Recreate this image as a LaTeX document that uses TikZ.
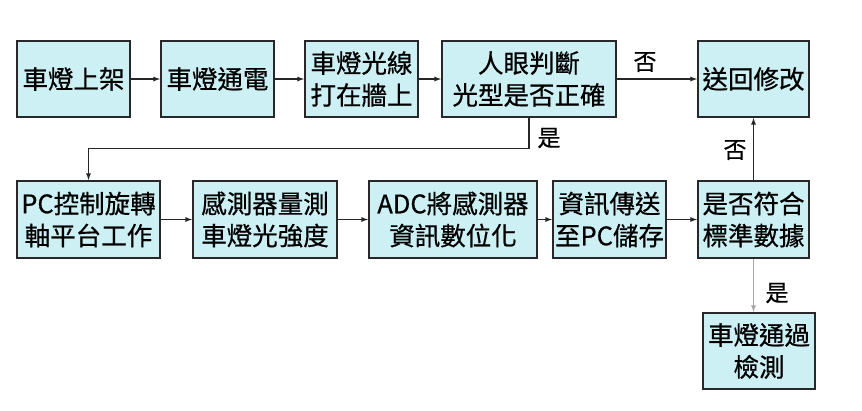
\documentclass[tikz,border=0pt]{standalone}
\usepackage{fontspec}
\newfontfamily\cjk[FakeBold=0.6]{Noto Sans CJK TC}
\usetikzlibrary{arrows.meta}
\definecolor{boxfill}{RGB}{204,240,244}
\definecolor{boxline}{RGB}{40,40,40}
\begin{document}
\begin{tikzpicture}[x=1pt,y=-1pt,
  stepbox/.style={draw=boxline, line width=1.2pt, fill=boxfill, inner sep=0pt,
    minimum height=76pt, align=center,
    font=\cjk\fontsize{25.5pt}{32pt}\selectfont},
  flow/.style={draw=black!85, line width=1.1pt, -{Latex[length=7pt,width=5pt]}},
  lbl/.style={font=\cjk\fontsize{23pt}{26pt}\selectfont, inner sep=0pt}]
\useasboundingbox (0,0) rectangle (862,410);
\fill[white] (0,0) rectangle (862,410);

% upper row
\node[stepbox, minimum width=113pt] (n1) at (73.5,79) {車燈上架};
\node[stepbox, minimum width=113pt] (n2) at (217.5,79) {車燈通電};
\node[stepbox, minimum width=113pt] (n3) at (361.5,79) {車燈光線\\打在牆上};
\node[stepbox, minimum width=174pt] (n4) at (529,79) {人眼判斷\\光型是否正確};
\node[stepbox, minimum width=111pt] (n5) at (753.5,79) {送回修改};

% lower row
\node[stepbox, minimum width=143pt, minimum height=77pt] (n6) at (88.5,219.5) {PC控制旋轉\\軸平台工作};
\node[stepbox, minimum width=144pt, minimum height=77pt] (n7) at (265,219.5) {感測器量測\\車燈光強度};
\node[stepbox, minimum width=168pt, minimum height=77pt] (n8) at (453,219.5) {ADC將感測器\\資訊數位化};
\node[stepbox, minimum width=113pt, minimum height=77pt] (n9) at (609.5,219.5) {資訊傳送\\至PC儲存};
\node[stepbox, minimum width=111pt, minimum height=77pt] (n10) at (753.5,219.5) {是否符合\\標準數據};
\node[stepbox, minimum width=112pt] (n11) at (759,351) {車燈通過\\檢測};

% connectors
\draw[flow] (n1) -- (n2);
\draw[flow] (n2) -- (n3);
\draw[flow] (n3) -- (n4);
\draw[flow] (n4) -- (n5);
\node[lbl] (no1) at (645,62) {否};
\draw[flow] (n4.south) -- ++(0,31) -| (n6.north);
\node[lbl] (yes1) at (549,138) {是};
\draw[flow] (n6) -- (n7);
\draw[flow] (n7) -- (n8);
\draw[flow] (n8) -- (n9);
\draw[flow] (n9) -- (n10);
\draw[flow] (n10.north) -- (n5.south);
\node[lbl] (no2) at (735,150) {否};
\draw[flow, draw=black!35] (n10.south) -- (n10.south |- n11.north);
\node[lbl] (yes2) at (777,293) {是};
\end{tikzpicture}
\end{document}
